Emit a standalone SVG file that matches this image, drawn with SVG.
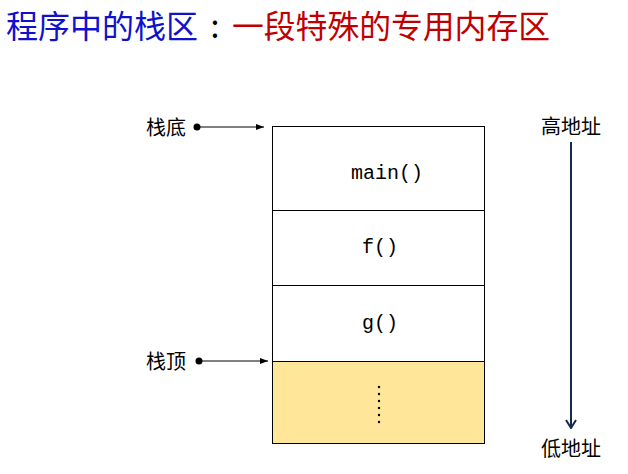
<svg xmlns="http://www.w3.org/2000/svg" width="628" height="474" viewBox="0 0 628 474">
<style>
.cjk{font-family:"Microsoft YaHei","Noto Sans CJK SC",sans-serif;}
.lbl{font-family:"Noto Sans CJK SC",sans-serif;font-size:20px;fill:#000;}
.code{font-family:"Liberation Mono","Courier New",monospace;font-size:20px;fill:#000;text-anchor:middle;}
.cell{fill:#fff;stroke:#000;stroke-width:1;}
.ptr{stroke:#000;stroke-width:1;fill:none;marker-end:url(#tri);}
</style>
<defs>
<marker id="tri" markerWidth="8" markerHeight="6" refX="8" refY="3" orient="auto" markerUnits="userSpaceOnUse">
<path d="M0,0 L8,3 L0,6 Z" fill="#000"/>
</marker>
<marker id="vee" markerWidth="12" markerHeight="12" refX="11" refY="6" orient="auto" markerUnits="userSpaceOnUse" viewBox="0 0 12 12">
<path d="M3,1 L11,6 L3,11" fill="none" stroke="#17294f" stroke-width="2"/>
</marker>
</defs>
<rect width="628" height="474" fill="#fff"/>
<g id="title" class="cjk" font-size="32">
<text x="6" y="38" fill="#1111cc" textLength="192" lengthAdjust="spacingAndGlyphs">程序中的栈区</text>
<text x="215" y="38" fill="#000" text-anchor="middle">:</text>
<text x="232" y="38" fill="#c00000" textLength="318" lengthAdjust="spacingAndGlyphs">一段特殊的专用内存区</text>
</g>
<g id="stack">
<rect id="cell-main" class="cell" x="272.5" y="126.5" width="212" height="84"/>
<rect id="cell-f" class="cell" x="272.5" y="210.5" width="212" height="75"/>
<rect id="cell-g" class="cell" x="272.5" y="285.5" width="212" height="76"/>
<rect id="cell-free" x="272.5" y="361.5" width="212" height="82" fill="#ffe699" stroke="#000" stroke-width="1"/>
<text class="code" x="387" y="179">main()</text>
<text class="code" x="380" y="253">f()</text>
<text class="code" x="380" y="329">g()</text>
<g fill="#000">
<circle cx="379" cy="387" r="1.2"/>
<circle cx="379" cy="394" r="1.2"/>
<circle cx="379" cy="401" r="1.2"/>
<circle cx="379" cy="408" r="1.2"/>
<circle cx="379" cy="415" r="1.2"/>
<circle cx="379" cy="422" r="1.2"/>
</g>
</g>
<g id="label-bottom">
<text class="lbl" x="146" y="135">栈底</text>
<circle cx="197" cy="127" r="3.5" fill="#000"/>
</g>
<g id="label-top">
<text class="lbl" x="146" y="369">栈顶</text>
<circle cx="199" cy="361" r="3.5" fill="#000"/>
</g>
<g id="label-high"><text class="lbl" x="571" y="134" text-anchor="middle">高地址</text></g>
<g id="label-low"><text class="lbl" x="571" y="456" text-anchor="middle">低地址</text></g>
<g id="connectors">
<line class="ptr" x1="200" y1="127" x2="264" y2="127"/>
<line class="ptr" x1="202" y1="361" x2="268" y2="361"/>
<line x1="571" y1="142" x2="571" y2="428" stroke="#17294f" stroke-width="2" marker-end="url(#vee)"/>
</g>
</svg>
